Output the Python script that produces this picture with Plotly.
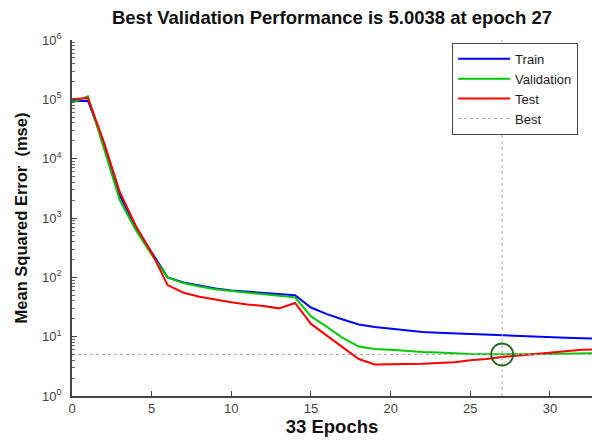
import plotly.graph_objects as go

epochs = list(range(0, 34))
train = [9.3e4, 9.5e4, 1.8e4, 2400, 700, 270, 100, 82, 72, 65, 60, 57, 54, 52, 50,
         31, 24, 19.5, 16, 14.5, 13.5, 12.7, 12.0, 11.6, 11.3, 11.0, 10.7, 10.4,
         10.2, 10.0, 9.8, 9.6, 9.4, 9.3]
validation = [8.8e4, 1.12e5, 1.5e4, 2000, 630, 240, 100, 80, 70, 63, 59, 55, 52, 49, 46,
              22, 14.6, 9.5, 6.8, 6.2, 6.0, 5.7, 5.5, 5.4, 5.2, 5.1, 5.05, 5.0038,
              5.02, 5.05, 5.1, 5.15, 5.2, 5.3]
test = [1.0e5, 1.05e5, 1.9e4, 2750, 740, 260, 74, 55, 47, 42, 38, 35, 33, 30, 37,
        16.4, 10.3, 6.5, 4.2, 3.4, 3.4, 3.45, 3.5, 3.6, 3.7, 4.0, 4.2, 4.55, 4.8,
        5.2, 5.5, 5.7, 6.0, 6.1]
best_epoch = 27
best_perf = 5.0038
n_epochs = 33

x_ticks = [0, 5, 10, 15, 20, 25, 30]
y_tick_exps = [0, 1, 2, 3, 4, 5, 6]

fig = go.Figure()
fig.add_trace(go.Scatter(x=epochs, y=train, mode="lines", name="Train",
                         line=dict(color="#0000ff", width=2)))
fig.add_trace(go.Scatter(x=epochs, y=validation, mode="lines", name="Validation",
                         line=dict(color="#00c800", width=2)))
fig.add_trace(go.Scatter(x=epochs, y=test, mode="lines", name="Test",
                         line=dict(color="#ff0000", width=2)))
fig.add_trace(go.Scatter(x=[0, n_epochs, None, best_epoch, best_epoch],
                         y=[best_perf, best_perf, None, 1, 1e6],
                         mode="lines", name="Best",
                         line=dict(color="#a8a8a8", width=1, dash="dot")))
fig.add_trace(go.Scatter(x=[best_epoch], y=[best_perf], mode="markers", showlegend=False,
                         marker=dict(symbol="circle-open", size=22, color="#1f6a1f",
                                     line=dict(color="#1f6a1f", width=1.8))))

minor_vals = [k * 10 ** d for d in range(0, 6) for k in range(2, 10)]

fig.update_layout(
    width=592, height=445,
    margin=dict(l=72, r=0, t=40, b=49, autoexpand=False),
    paper_bgcolor="white", plot_bgcolor="white",
    font=dict(family="Liberation Sans, Arial, sans-serif", color="#333333"),
    title=dict(text="<b>Best Validation Performance is 5.0038 at epoch 27</b>",
               x=0.5, xref="paper", y=0.96, yref="container", yanchor="middle",
               font=dict(size=18.5, color="#111111")),
    legend=dict(x=0.731, y=0.992, xanchor="left", yanchor="top",
                bgcolor="white", bordercolor="#444444", borderwidth=1,
                itemwidth=52,
                font=dict(size=13, color="#222222"), tracegroupgap=0),
    showlegend=True,
    hovermode=False,
)
fig.update_xaxes(range=[0, 32.64], tickvals=x_ticks, ticks="inside", ticklen=5,
                 tickcolor="#444444", showline=True, linecolor="#444444", linewidth=1.5,
                 showgrid=False, zeroline=False, automargin=False,
                 tickfont=dict(size=13, color="#444444"),
                 title=dict(text="<b>33 Epochs</b>", font=dict(size=18.5, color="#111111"),
                            standoff=3))
fig.update_yaxes(type="log", range=[0, 6],
                 tickvals=[10 ** e for e in y_tick_exps],
                 ticktext=["10<sup>%d</sup>" % e for e in y_tick_exps],
                 ticks="inside", ticklen=5, tickcolor="#444444",
                 minor=dict(tickvals=minor_vals, ticks="inside", ticklen=3,
                            tickcolor="#666666", showgrid=False),
                 showline=True, linecolor="#444444", linewidth=1.5,
                 showgrid=False, zeroline=False, automargin=False,
                 ticklabelstandoff=6,
                 tickfont=dict(size=13, color="#444444"),
                 title=dict(text="<b>Mean Squared Error  (mse)</b>",
                            font=dict(size=16.5, color="#111111"), standoff=10))

fig.write_html("out.html", config={"displayModeBar": False},
               post_script="document.body.style.margin='0';")
